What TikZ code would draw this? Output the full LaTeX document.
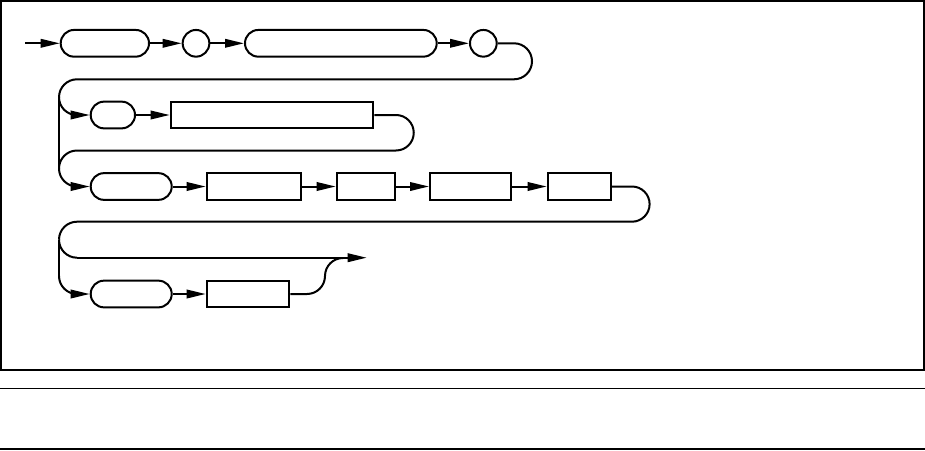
\documentclass[tikz,border=0pt]{standalone}
\usetikzlibrary{arrows.meta}
\begin{document}
\begin{tikzpicture}[x=1pt,y=-1pt,
  line width=2pt,
  term/.style={draw, rectangle, rounded corners=13.3pt, minimum height=26.7pt, inner sep=0pt, line width=2pt},
  nonterm/.style={draw, rectangle, minimum height=26.7pt, inner sep=0pt, line width=2pt},
  circ/.style={draw, circle, minimum size=26.7pt, inner sep=0pt, line width=2pt},
  arr/.style={-{Triangle[length=19pt,width=8.5pt]}},
  wire/.style={line width=2pt}]
\useasboundingbox (0,0) rectangle (925,450);
% frame and rules
\draw[line width=2pt] (1,1) rectangle (923.5,369.5);
\draw[line width=1.5pt] (0,388.3) -- (925,388.3);
\draw[line width=1.5pt] (0,448.8) -- (925,448.8);
% row 1
\node[term, minimum width=88.3pt] (A) at (104.85,43.3) {};
\node[circ] (B) at (196,43.3) {};
\node[term, minimum width=191.7pt] (C) at (340.85,43.3) {};
\node[circ] (D) at (483.35,43.3) {};
% row 2
\node[term, minimum width=44.3pt] (E) at (112.85,115) {};
\node[nonterm, minimum width=202.6pt] (F) at (272,115) {};
% row 3
\node[term, minimum width=81pt] (G) at (131.2,186.5) {};
\node[nonterm, minimum width=94.3pt] (H) at (253.85,186.5) {};
\node[nonterm, minimum width=58.3pt] (I) at (365.85,186.5) {};
\node[nonterm, minimum width=80.7pt] (J) at (470.35,186.5) {};
\node[nonterm, minimum width=63pt] (K) at (579.2,186.5) {};
% row 4
\node[term, minimum width=81pt] (L) at (131.2,294) {};
\node[nonterm, minimum width=82.6pt] (M) at (248,294) {};
% coordinates
\coordinate (start) at (25,43.3);
\coordinate (r1) at (514,43.3);
\coordinate (v1) at (59,97.3);
\coordinate (e2) at (76.7,115);
\coordinate (r2) at (396,115);
\coordinate (v2) at (59,168.5);
\coordinate (e3) at (77,186.5);
\coordinate (r3) at (632,186.5);
\coordinate (v3) at (59,239.7);
\coordinate (v4) at (59,276);
\coordinate (e4) at (77,294);
\coordinate (eb) at (77,257.7);
\coordinate (s0) at (307,294);
\coordinate (finish) at (366.7,257.7);
% row 1 connectors
\draw[arr] (start) -- (A);
\draw[arr] (A) -- (B);
\draw[arr] (B) -- (C);
\draw[arr] (C) -- (D);
\draw[wire] (D) -- (r1) arc[start angle=-90,end angle=90,radius=18] -- (77,79.3)
  arc[start angle=-90,end angle=-180,radius=18];
% left spine
\draw[wire] (v1) -- (v2);
\draw[wire] (v3) -- (v4);
% into row 2
\draw[wire] (v1) arc[start angle=180,end angle=90,radius=17.7];
\draw[arr] (e2) -- (E);
\draw[arr] (E) -- (F);
\draw[wire] (F) -- (r2) arc[start angle=-90,end angle=90,radius=17.75] -- (77,150.5)
  arc[start angle=-90,end angle=-180,radius=18];
% into row 3
\draw[wire] (v2) arc[start angle=180,end angle=90,radius=18];
\draw[arr] (e3) -- (G);
\draw[arr] (G) -- (H);
\draw[arr] (H) -- (I);
\draw[arr] (I) -- (J);
\draw[arr] (J) -- (K);
\draw[wire] (K) -- (r3) arc[start angle=-90,end angle=90,radius=17.6] -- (77,221.7)
  arc[start angle=-90,end angle=-180,radius=18];
% bypass to exit
\draw[wire] (v3) arc[start angle=180,end angle=90,radius=18];
\draw[arr] (eb) -- (finish);
% into row 4
\draw[wire] (v4) arc[start angle=180,end angle=90,radius=18];
\draw[arr] (e4) -- (L);
\draw[arr] (L) -- (M);
\draw[wire] (M) -- (s0) arc[start angle=90,end angle=0,radius=18]
  arc[start angle=180,end angle=270,radius=18];
\end{tikzpicture}
\end{document}
